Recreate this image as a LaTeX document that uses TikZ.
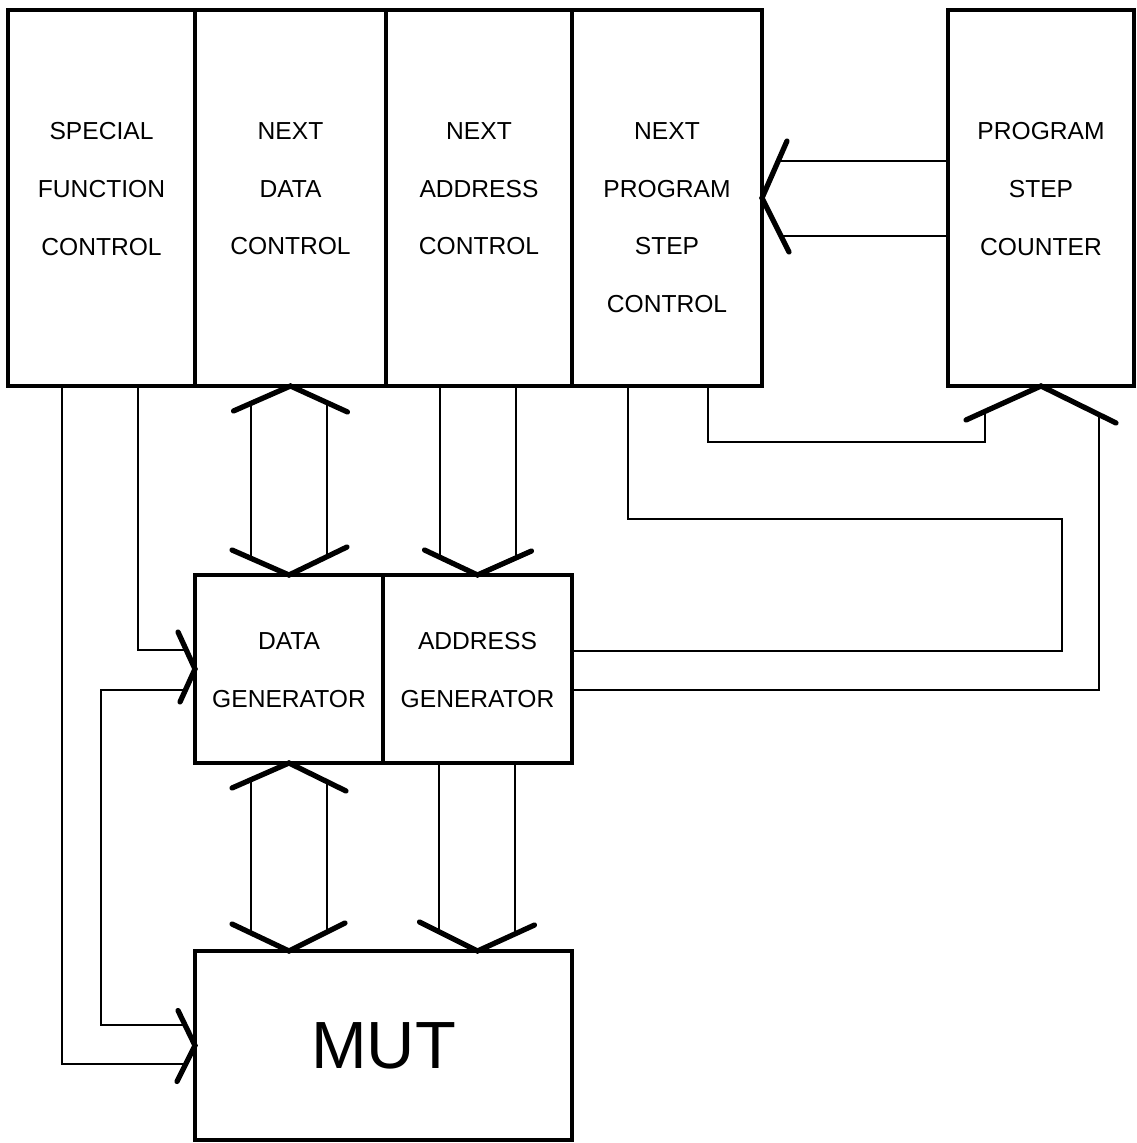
\documentclass[tikz,border=0pt]{standalone}
\usepackage{fontspec}
\setmainfont{Liberation Sans}
\usetikzlibrary{positioning}
\tikzset{
  block/.style={
    draw,
    rectangle,
    line width=1pt,
    inner sep=0pt,
    outer sep=0pt,
    anchor=north west
  },
  wire/.style={
    line width=0.8pt
  },
  bus head/.style={
    line width=1.5pt,
    line cap=round,
    line join=miter
  },
  tag/.style={
    font=\fontsize{7}{16.4}\selectfont,
    align=center,
    inner sep=0pt,
    anchor=north
  }
}

\begin{document}
\begin{tikzpicture}[x=0.1mm, y=-0.1mm]
    % 1 unit = 1 pixel of the scan
    \useasboundingbox (0,0) rectangle (1136,1143);

    % control unit
    \node[block, minimum width=18.7mm, minimum height=37.6mm] (sfc) at (8,10) {};
    \node[block, minimum width=19.1mm, minimum height=37.6mm, right=0pt of sfc] (ndc) {};
    \node[block, minimum width=18.6mm, minimum height=37.6mm, right=0pt of ndc] (nac) {};
    \node[block, minimum width=19.0mm, minimum height=37.6mm, right=0pt of nac] (npsc) {};
    \node[block, minimum width=18.6mm, minimum height=37.6mm] (psc) at (948,10) {};

    \node[tag, below=11.2mm of sfc.north] (sfc-t) {SPECIAL\\FUNCTION\\CONTROL};
    \node[tag, below=11.2mm of ndc.north] (ndc-t) {NEXT\\DATA\\CONTROL};
    \node[tag, below=11.2mm of nac.north] (nac-t) {NEXT\\ADDRESS\\CONTROL};
    \node[tag, below=11.2mm of npsc.north] (npsc-t) {NEXT\\PROGRAM\\STEP\\CONTROL};
    \node[tag, below=11.2mm of psc.north] (psc-t) {PROGRAM\\STEP\\COUNTER};

    % generators and MUT
    \node[block, minimum width=18.8mm, minimum height=18.8mm] (dgen) at (195,575) {};
    \node[block, minimum width=18.9mm, minimum height=18.8mm, right=0pt of dgen] (agen) {};
    \node[block, minimum width=37.7mm, minimum height=18.9mm,
          font=\fontsize{19}{22}\selectfont] (mut) at (195,951) {MUT};

    \node[tag, below=5.7mm of dgen.north] (dgen-t) {DATA\\GENERATOR};
    \node[tag, below=5.7mm of agen.north] (agen-t) {ADDRESS\\GENERATOR};

    % special function lines
    \draw[wire, shorten >=0.9mm] (sfc.south -| 62,0) |- (mut.west |- 0,1064);
    \draw[wire, shorten >=1mm] (sfc.south -| 138,0) |- (dgen.west |- 0,650);
    \draw[wire, shorten <=0.9mm, shorten >=1.1mm] (dgen.west |- 0,690) -| (101,1025) -- (mut.west |- 0,1025);
    \draw[bus head] (dgen.west) ++(-17,-37) -- ++(17,37) -- ++(-15,33);
    \draw[bus head] (mut.west) ++(-17,-35) -- ++(17,35) -- ++(-18,36);

    % data bus
    \draw[wire, shorten <=1.7mm, shorten >=1.7mm] (ndc.south -| 251,0) -- (dgen.north -| 251,0);
    \draw[wire, shorten <=1.7mm, shorten >=1.7mm] (ndc.south -| 327,0) -- (dgen.north -| 327,0);
    \draw[bus head] (ndc.south) ++(-57,25) -- ++(57,-25) -- ++(57,26);
    \draw[bus head] (dgen.north) ++(-57,-25) -- ++(57,25) -- ++(58,-28);

    \draw[wire, shorten <=1.8mm, shorten >=1.9mm] (dgen.south -| 251,0) -- (mut.north -| 251,0);
    \draw[wire, shorten <=1.8mm, shorten >=1.9mm] (dgen.south -| 327,0) -- (mut.north -| 327,0);
    \draw[bus head] (dgen.south) ++(-57,25) -- ++(57,-25) -- ++(57,28);
    \draw[bus head] (mut.north -| dgen.south) ++(-57,-27) -- ++(57,27) -- ++(56,-28);

    % address bus
    \draw[wire, shorten >=1.7mm] (nac.south -| 440,0) -- (agen.north -| 440,0);
    \draw[wire, shorten >=1.7mm] (nac.south -| 516,0) -- (agen.north -| 516,0);
    \draw[bus head] (agen.north) ++(-53,-25) -- ++(53,25) -- ++(54,-24);

    \draw[wire, shorten >=1.9mm] (agen.south -| 439,0) -- (mut.north -| 439,0);
    \draw[wire, shorten >=1.9mm] (agen.south -| 515,0) -- (mut.north -| 515,0);
    \draw[bus head] (mut.north -| agen.south) ++(-58,-29) -- ++(58,29) -- ++(57,-26);

    % program step loop
    \draw[wire] (npsc.south -| 628,0) |- (1062,519) |- (agen.east |- 0,651);
    \draw[wire, shorten >=2.8mm] (npsc.south -| 708,0) |- (985,442) -- (psc.south -| 985,0);
    \draw[wire, shorten >=2.8mm] (agen.east |- 0,690) -| (psc.south -| 1099,0);
    \draw[bus head] (psc.south) ++(-75,34) -- ++(75,-34) -- ++(75,37);

    \draw[wire, shorten >=1.8mm] (psc.west |- 0,161) -- (npsc.east |- 0,161);
    \draw[wire, shorten >=1.8mm] (psc.west |- 0,236) -- (npsc.east |- 0,236);
    \draw[bus head] (npsc.east) ++(25,-57) -- ++(-25,57) -- ++(27,54);

  \end{tikzpicture}
\end{document}
